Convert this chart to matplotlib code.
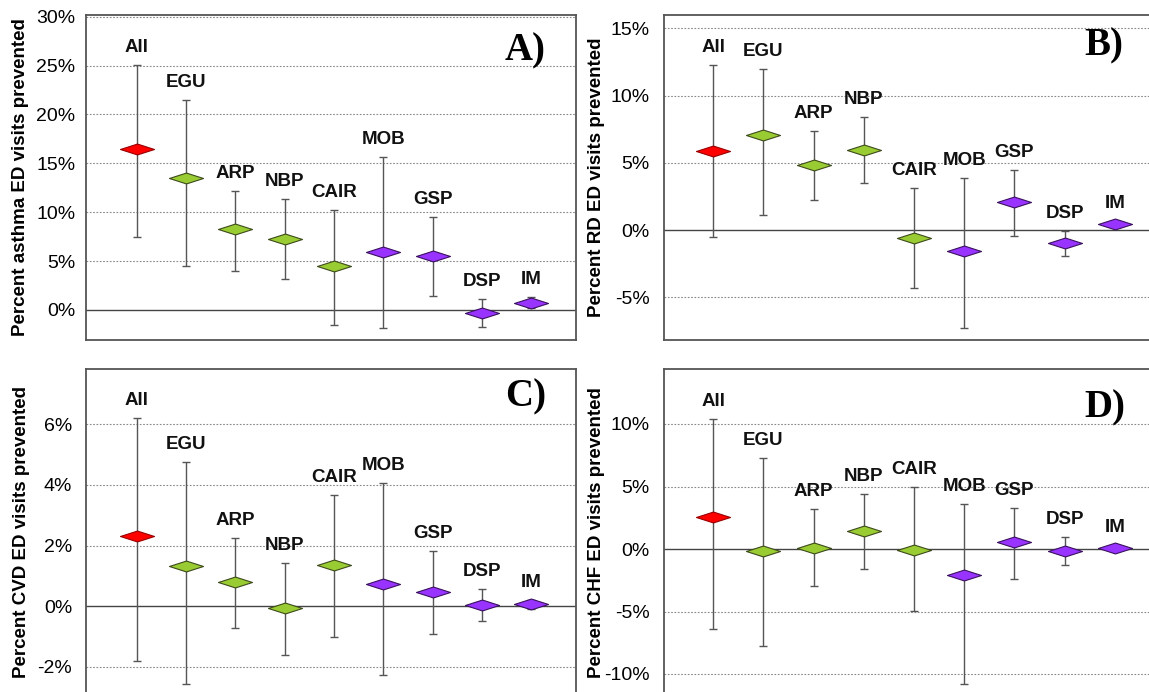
import matplotlib
matplotlib.use("Agg")
import matplotlib.pyplot as plt
from matplotlib.path import Path

categories = ['All', 'EGU', 'ARP', 'NBP', 'CAIR', 'MOB', 'GSP', 'DSP', 'IM']
groups = ['all', 'green', 'green', 'green', 'green', 'purple', 'purple', 'purple', 'purple']

asthma_mid = [16.44, 13.46, 8.24, 7.29, 4.47, 5.90, 5.53, -0.27, 0.75]
asthma_low = [7.49, 4.50, 4.03, 3.19, -1.56, -1.86, 1.39, -1.76, 0.17]
asthma_high = [25.05, 21.50, 12.20, 11.36, 10.20, 15.66, 9.53, 1.15, 1.32]

rd_mid = [5.89, 7.04, 4.83, 5.94, -0.57, -1.53, 2.09, -0.99, 0.47]
rd_low = [-0.49, 1.11, 2.24, 3.47, -4.33, -7.29, -0.44, -1.90, 0.22]
rd_high = [12.29, 12.00, 7.36, 8.40, 3.10, 3.84, 4.50, -0.07, 0.71]

cvd_mid = [2.33, 1.32, 0.78, -0.08, 1.37, 0.73, 0.46, 0.03, 0.06]
cvd_low = [-1.80, -2.58, -0.72, -1.62, -1.02, -2.26, -0.91, -0.50, -0.09]
cvd_high = [6.20, 4.77, 2.26, 1.41, 3.67, 4.06, 1.83, 0.57, 0.20]

chf_mid = [2.53, -0.16, 0.11, 1.44, -0.08, -2.08, 0.53, -0.13, 0.11]
chf_low = [-6.40, -7.73, -2.93, -1.60, -4.93, -10.80, -2.40, -1.25, -0.10]
chf_high = [10.43, 7.31, 3.23, 4.37, 4.93, 3.63, 3.25, 0.99, 0.30]

ticks_a = [0, 5, 10, 15, 20, 25, 30]
ticks_b = [-5, 0, 5, 10, 15]
ticks_c = [-2, 0, 2, 4, 6]
ticks_d = [-10, -5, 0, 5, 10]

ylabels = ['Percent asthma ED visits prevented', 'Percent RD ED visits prevented',
           'Percent CVD ED visits prevented', 'Percent CHF ED visits prevented']
panel_letters = ['A)', 'B)', 'C)', 'D)']

color_map = {'all': '#FF0000', 'green': '#99CC33', 'purple': '#9933FF'}
edge_map = {'all': '#990000', 'green': '#3d4a1a', 'purple': '#3a1060'}

W, H = 1149, 692
fig = plt.figure(figsize=(W / 100, H / 100), dpi=100)

def px_axes(left, top, right, bottom):
    return [left / W, (H - bottom) / H, (right - left) / W, (bottom - top) / H]

diamond = Path([(-1, 0), (0, 0.32), (1, 0), (0, -0.32), (-1, 0)],
               [Path.MOVETO, Path.LINETO, Path.LINETO, Path.LINETO, Path.CLOSEPOLY])

panels = [
    dict(rect=px_axes(86, 15, 576, 340), mid=asthma_mid, low=asthma_low, high=asthma_high,
         ticks=ticks_a, ylim=(-3.07, 30.17), xlim=(-1.03, 8.91), pad=7.5,
         ylab_x=20.5, letter_xy=(0.896, 0.889)),
    dict(rect=px_axes(664, 15, 1165, 340), mid=rd_mid, low=rd_low, high=rd_high,
         ticks=ticks_b, ylim=(-8.16, 15.98), xlim=(-0.98, 9.0), pad=10.5,
         ylab_x=596.5, letter_xy=(0.878, 0.905)),
    dict(rect=px_axes(86, 369, 576, 696), mid=cvd_mid, low=cvd_low, high=cvd_high,
         ticks=ticks_c, ylim=(-2.97, 7.83), xlim=(-1.03, 8.91), pad=10,
         ylab_x=21.5, letter_xy=(0.897, 0.914)),
    dict(rect=px_axes(664, 369, 1165, 696), mid=chf_mid, low=chf_low, high=chf_high,
         ticks=ticks_d, ylim=(-11.76, 14.4), xlim=(-0.98, 9.0), pad=10.5,
         ylab_x=596.5, letter_xy=(0.88, 0.881)),
]

for i, p in enumerate(panels):
    ax = fig.add_axes(p['rect'])
    ax.set_xlim(*p['xlim'])
    ax.set_ylim(*p['ylim'])
    for s in ax.spines.values():
        s.set_color('#555555')
        s.set_linewidth(1.3)
    ax.set_xticks([])
    ax.set_yticks(p['ticks'])
    ax.set_yticklabels([f'{t}%' for t in p['ticks']], fontsize=14,
                       fontfamily='Liberation Sans')
    ax.tick_params(axis='y', length=0, pad=p['pad'])
    for t in p['ticks']:
        if t == 0:
            ax.axhline(0, color='#444444', lw=1.0, zorder=1)
        else:
            ax.axhline(t, color='#888888', lw=0.8, ls=(0, (1.5, 1.5)), zorder=1)
    xs = list(range(len(categories)))
    for x, m, lo, hi, g, cat in zip(xs, p['mid'], p['low'], p['high'], groups, categories):
        ax.errorbar([x], [m], yerr=[[m - lo], [hi - m]], fmt='none',
                    ecolor='#555555', elinewidth=1.0, capsize=3, capthick=1.0, zorder=2)
        ax.plot([x], [m], marker=diamond, markersize=24.5, color=color_map[g],
                markeredgecolor=edge_map[g], markeredgewidth=0.8, ls='none', zorder=3)
        ax.annotate(cat, xy=(x, hi), xytext=(0, 13), textcoords='offset pixels',
                    ha='center', va='baseline', fontsize=13.5, fontweight='bold',
                    fontfamily='Liberation Sans', color='#111111')
    ax.text(p['letter_xy'][0], p['letter_xy'][1], panel_letters[i], transform=ax.transAxes,
            ha='center', va='center', fontsize=28, fontweight='bold',
            fontfamily='Liberation Serif')
    top_px = H - (p['rect'][1] + p['rect'][3]) * H
    bot_px = H - p['rect'][1] * H
    yc = (top_px + bot_px) / 2
    fig.text(p['ylab_x'] / W, 1 - yc / H, ylabels[i], rotation=90, ha='center',
             va='center', fontsize=13.5, fontweight='bold', fontfamily='Liberation Sans')

fig.savefig('out.png', dpi=100)
